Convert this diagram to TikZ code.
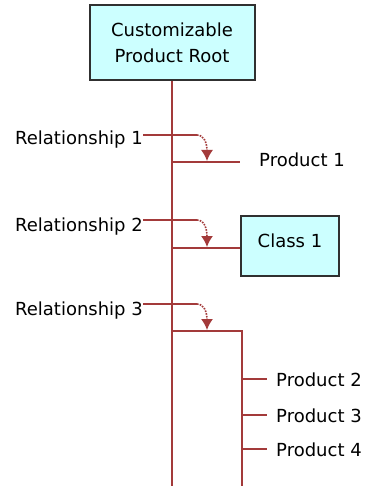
\documentclass[tikz,border=0pt]{standalone}
\usepackage{fontspec}
\setmainfont{DejaVu Sans}
\usetikzlibrary{arrows.meta}
\definecolor{relred}{HTML}{A33A3A}
\definecolor{boxfill}{HTML}{CCFFFF}
\definecolor{boxline}{HTML}{303030}
\tikzset{
  conn/.style={draw=relred, line width=2pt},
  relarrow/.style={draw=relred, line width=1.6pt, dash pattern=on 1.6pt off 1.2pt,
    -{Latex[length=11pt,width=12pt,fill=relred]}},
  prodbox/.style={draw=boxline, fill=boxfill, line width=2pt, inner sep=0pt},
  lbl/.style={inner sep=0pt, font=\fontsize{18}{26}\selectfont}
}
\begin{document}
\begin{tikzpicture}[x=1pt,y=-1pt]
\useasboundingbox (0,0) rectangle (368,486);
% root
\node[prodbox, minimum width=165pt, minimum height=75pt, align=center,
      font=\fontsize{18}{26}\selectfont] (root) at (172,43) {Customizable\\Product Root};
\coordinate (mainend) at (172,486);
\draw[conn] (root.south) -- (mainend);

% Relationship 1
\node[lbl, anchor=base east] (r1) at (143,145) {Relationship 1};
\coordinate (r1s) at (143,135);
\coordinate (r1c) at (197,135);
\coordinate (r1t) at (207,161);
\coordinate (b1s) at (172,162);
\coordinate (b1e) at (240,162);
\draw[conn] (r1s) -- (r1c);
\draw[relarrow] (r1c) .. controls (204,135) and (207,143) .. (r1t);
\draw[conn] (b1s) -- (b1e);
\node[lbl, anchor=base west] (p1) at (259,167) {Product 1};

% Relationship 2
\node[lbl, anchor=base east] (r2) at (143,231) {Relationship 2};
\coordinate (r2s) at (143,220);
\coordinate (r2c) at (197,220);
\coordinate (r2t) at (207,247);
\coordinate (b2s) at (172,248);
\node[prodbox, minimum width=98pt, minimum height=60pt, font=\fontsize{18}{26}\selectfont,
      text height=13.7pt, text depth=11.5pt] (c1) at (290,246) {Class 1};
\draw[conn] (r2s) -- (r2c);
\draw[relarrow] (r2c) .. controls (204,220) and (207,228) .. (r2t);
\draw[conn] (b2s) -- (b2s -| c1.west);

% Relationship 3
\node[lbl, anchor=base east] (r3) at (143,315) {Relationship 3};
\coordinate (r3s) at (143,304);
\coordinate (r3c) at (197,304);
\coordinate (r3t) at (207,330);
\coordinate (b3s) at (172,331);
\coordinate (b3e) at (242,331);
\coordinate (b3d) at (242,486);
\draw[conn] (r3s) -- (r3c);
\draw[relarrow] (r3c) .. controls (204,304) and (207,312) .. (r3t);
\draw[conn] (b3s) -- (b3e) -- (b3d);

% products 2-4
\coordinate (t2s) at (242,379); \coordinate (t2e) at (267,379);
\coordinate (t3s) at (242,415); \coordinate (t3e) at (267,415);
\coordinate (t4s) at (242,449); \coordinate (t4e) at (267,449);
\draw[conn] (t2s) -- (t2e);
\draw[conn] (t3s) -- (t3e);
\draw[conn] (t4s) -- (t4e);
\node[lbl, anchor=base west] (p2) at (276,386) {Product 2};
\node[lbl, anchor=base west] (p3) at (276,422) {Product 3};
\node[lbl, anchor=base west] (p4) at (276,456) {Product 4};
\end{tikzpicture}
\end{document}
